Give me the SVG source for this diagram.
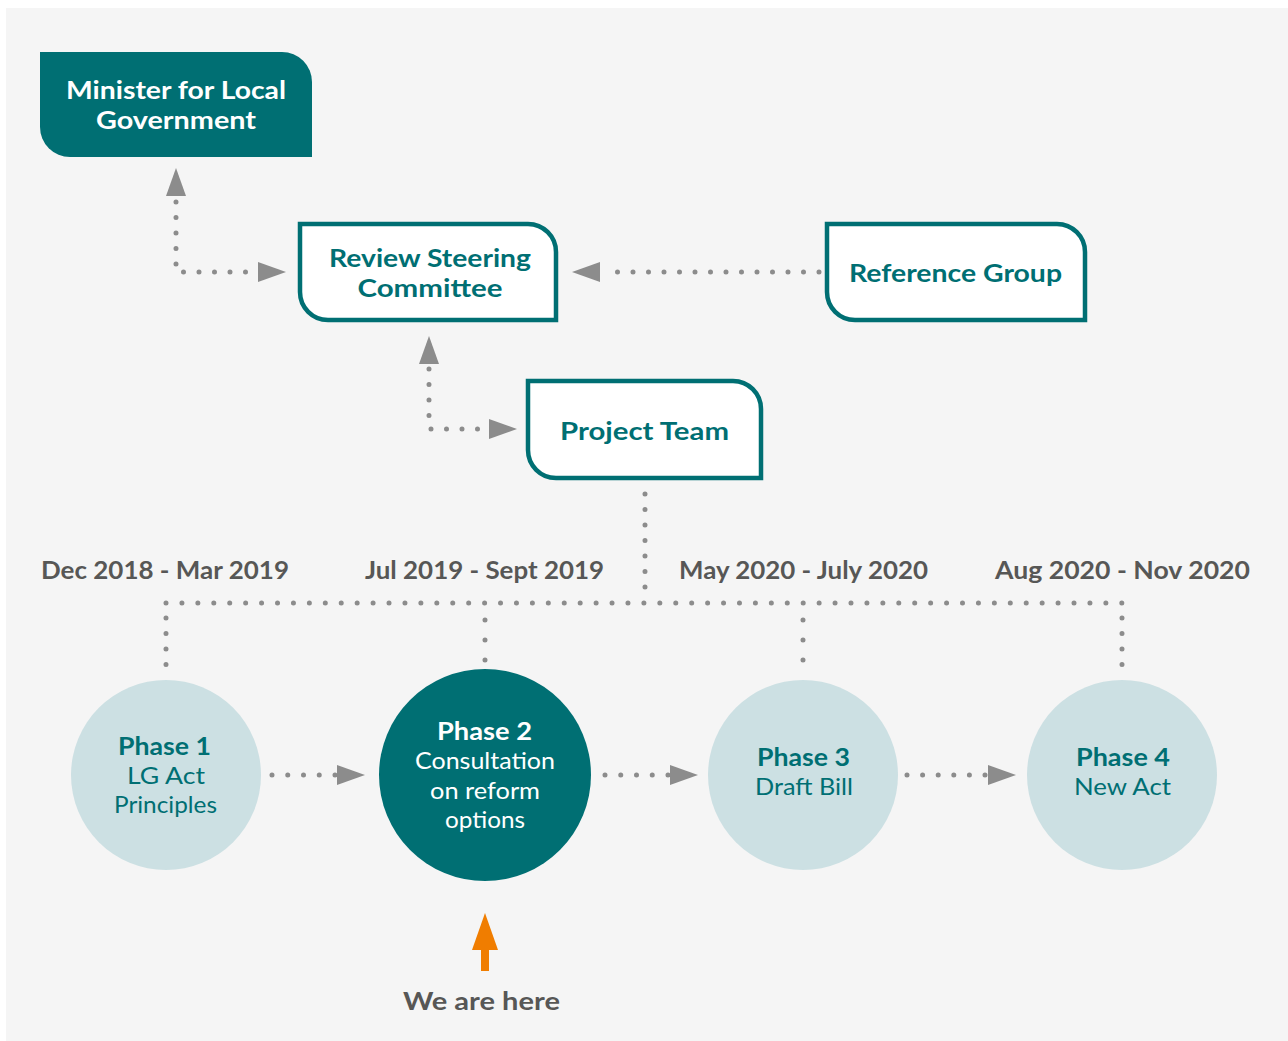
<svg xmlns="http://www.w3.org/2000/svg" width="1288" height="1041" viewBox="0 0 1288 1041">
  <style>
    .dot { fill: none; stroke: #8c8c8c; stroke-width: 5; stroke-linecap: round; stroke-dasharray: 0 15.5; }
    .head { fill: #8c8c8c; }
    .boxo { fill: #ffffff; stroke: #006f73; stroke-width: 4.5; }
    .t { font-family: Lato, "Liberation Sans", sans-serif; text-anchor: middle; }
    .b { font-weight: 700; }
    .r { font-weight: 400; }
    .w { fill: #ffffff; }
    .tl { fill: #006f73; }
    .g { fill: #575756; }
    .lc { fill: #cce0e3; }
  </style>
  <rect x="0" y="0" width="1288" height="1041" fill="#ffffff"/>
  <rect x="6" y="8" width="1282" height="1033" fill="#f5f5f5"/>

  <g id="connectors">
    <path class="dot" d="M176,202 V272 H252.5"/>
    <polygon class="head" points="176,168 166,196 186,196"/>
    <polygon class="head" points="286,272 258,262 258,282"/>

    <path class="dot" d="M819,272 H604"/>
    <polygon class="head" points="572,272 600,262 600,282"/>

    <path class="dot" d="M429,369 V429 H484.5"/>
    <polygon class="head" points="429,336 419,364 439,364"/>
    <polygon class="head" points="517,429 489,419 489,439"/>

    <path class="dot" d="M645,494 V588.5"/>
    <path class="dot" d="M166,603 H1122.5" style="stroke-dasharray:0 15.93"/>
    <path class="dot" d="M166,618 V665"/>
    <path class="dot" d="M485,620 V661" style="stroke-dasharray:0 20"/>
    <path class="dot" d="M803,620 V661" style="stroke-dasharray:0 20"/>
    <path class="dot" d="M1122,618 V665"/>

    <path class="dot" d="M272,775 H335.5" style="stroke-dasharray:0 15.75"/>
    <polygon class="head" points="365,775 337,765 337,785"/>
    <path class="dot" d="M605,775 H668.5" style="stroke-dasharray:0 15.75"/>
    <polygon class="head" points="698,775 670,765 670,785"/>
    <path class="dot" d="M907,775 H985.5" style="stroke-dasharray:0 15.6"/>
    <polygon class="head" points="1016,775 988,765 988,785"/>
  </g>

  <g id="minister">
    <path d="M40,52 H282 A30,30 0 0 1 312,82 V157 H70 A30,30 0 0 1 40,127 Z" fill="#006f73"/>
    <text class="t b w" x="176" y="99" font-size="24" textLength="220" lengthAdjust="spacingAndGlyphs">Minister for Local</text>
    <text class="t b w" x="176" y="129" font-size="24" textLength="160" lengthAdjust="spacingAndGlyphs">Government</text>
  </g>

  <g id="review-steering">
    <path class="boxo" d="M300,224 H528 A28,28 0 0 1 556,252 V320 H328 A28,28 0 0 1 300,292 Z"/>
    <text class="t b tl" x="430" y="267" font-size="24" textLength="202" lengthAdjust="spacingAndGlyphs">Review Steering</text>
    <text class="t b tl" x="430" y="297" font-size="24" textLength="145" lengthAdjust="spacingAndGlyphs">Committee</text>
  </g>

  <g id="reference-group">
    <path class="boxo" d="M827,224 H1057 A28,28 0 0 1 1085,252 V320 H855 A28,28 0 0 1 827,292 Z"/>
    <text class="t b tl" x="955.5" y="282" font-size="24" textLength="213" lengthAdjust="spacingAndGlyphs">Reference Group</text>
  </g>

  <g id="project-team">
    <path class="boxo" d="M528,381 H733 A28,28 0 0 1 761,409 V478 H556 A28,28 0 0 1 528,450 Z"/>
    <text class="t b tl" x="644.5" y="440" font-size="24" textLength="169" lengthAdjust="spacingAndGlyphs">Project Team</text>
  </g>

  <g id="dates">
    <text class="t b g" x="165" y="579" font-size="24" textLength="248" lengthAdjust="spacingAndGlyphs">Dec 2018 - Mar 2019</text>
    <text class="t b g" x="484.5" y="579" font-size="24" textLength="239" lengthAdjust="spacingAndGlyphs">Jul 2019 - Sept 2019</text>
    <text class="t b g" x="803.5" y="579" font-size="24" textLength="249" lengthAdjust="spacingAndGlyphs">May 2020 - July 2020</text>
    <text class="t b g" x="1122.5" y="579" font-size="24" textLength="255" lengthAdjust="spacingAndGlyphs">Aug 2020 - Nov 2020</text>
  </g>

  <g id="phase1">
    <circle class="lc" cx="166" cy="775" r="95"/>
    <text class="t b tl" x="164.5" y="755" font-size="24" textLength="93" lengthAdjust="spacingAndGlyphs">Phase 1</text>
    <text class="t r tl" x="166" y="784" font-size="24" textLength="78" lengthAdjust="spacingAndGlyphs">LG Act</text>
    <text class="t r tl" x="165.5" y="813" font-size="24" textLength="103" lengthAdjust="spacingAndGlyphs">Principles</text>
  </g>

  <g id="phase2">
    <circle cx="485" cy="775" r="106" fill="#006f73"/>
    <text class="t b w" x="484.5" y="740" font-size="24" textLength="95" lengthAdjust="spacingAndGlyphs">Phase 2</text>
    <text class="t r w" x="485" y="769" font-size="24" textLength="140" lengthAdjust="spacingAndGlyphs">Consultation</text>
    <text class="t r w" x="485" y="799" font-size="24" textLength="110" lengthAdjust="spacingAndGlyphs">on reform</text>
    <text class="t r w" x="485" y="828" font-size="24" textLength="80" lengthAdjust="spacingAndGlyphs">options</text>
  </g>

  <g id="phase3">
    <circle class="lc" cx="803" cy="775" r="95"/>
    <text class="t b tl" x="803.5" y="766" font-size="24" textLength="93" lengthAdjust="spacingAndGlyphs">Phase 3</text>
    <text class="t r tl" x="804" y="795" font-size="24" textLength="98" lengthAdjust="spacingAndGlyphs">Draft Bill</text>
  </g>

  <g id="phase4">
    <circle class="lc" cx="1122" cy="775" r="95"/>
    <text class="t b tl" x="1123" y="766" font-size="24" textLength="94" lengthAdjust="spacingAndGlyphs">Phase 4</text>
    <text class="t r tl" x="1122.5" y="795" font-size="24" textLength="97" lengthAdjust="spacingAndGlyphs">New Act</text>
  </g>

  <g id="we-are-here">
    <polygon points="485,913 472,950 498,950" fill="#f07d00"/>
    <rect x="481" y="948" width="8" height="23" fill="#f07d00"/>
    <text class="t b g" x="481.5" y="1010" font-size="24" textLength="157" lengthAdjust="spacingAndGlyphs">We are here</text>
  </g>
</svg>
